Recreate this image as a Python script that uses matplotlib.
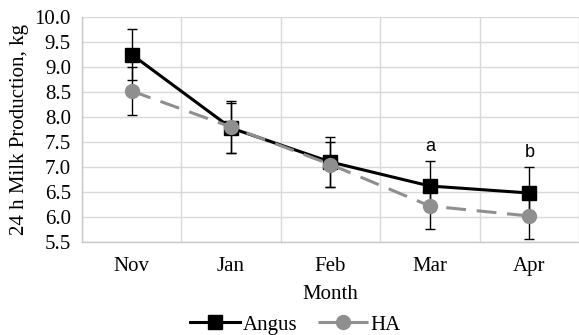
import numpy as np
import matplotlib
matplotlib.use('Agg')
import matplotlib.pyplot as plt

months = ['Nov', 'Jan', 'Feb', 'Mar', 'Apr']
angus = [9.25, 7.78, 7.10, 6.62, 6.48]
angus_err = [0.51, 0.50, 0.50, 0.50, 0.52]
ha = [8.52, 7.80, 7.05, 6.22, 6.02]
ha_err = [0.48, 0.52, 0.45, 0.46, 0.46]
letters = {3: 'a', 4: 'b'}

plt.rcParams['font.family'] = 'Liberation Serif'
plt.rcParams['font.size'] = 15

fig = plt.figure(figsize=(5.79, 3.35), dpi=100)
ax = fig.add_axes([0.1416, 0.2776, 0.8584, 0.6716])

x = np.arange(len(months))
# error bars first, then the lines on top
ax.errorbar(x, ha, yerr=ha_err, fmt='none', ecolor='black',
            elinewidth=1, capsize=3.5, capthick=1, zorder=2)
ax.errorbar(x, angus, yerr=angus_err, fmt='none', ecolor='black',
            elinewidth=1, capsize=3.5, capthick=1, zorder=2)
l_angus, = ax.plot(x, angus, color='black', lw=2.2, marker='s', ms=10,
                   label='Angus', zorder=3)
l_ha, = ax.plot(x, ha, color='#8f8f8f', lw=2.2, ls=(0, (6.5, 3.5)),
                marker='o', ms=10, label='HA', zorder=4)

for i, t in letters.items():
    top = max(angus[i] + angus_err[i], ha[i] + ha_err[i])
    ax.text(x[i], top + 0.12, t, ha='center', va='bottom', fontsize=13,
            family='Liberation Sans')

ax.set_xlim(-0.5, 4.47)
ax.set_ylim(5.5, 10.0)
yt = np.arange(5.5, 10.01, 0.5)
ax.set_yticks(yt)
ax.set_yticklabels(['%.1f' % v for v in yt])
ax.set_xticks(x)
ax.set_xticklabels(months)
ax.set_xticks(np.arange(-0.5, 4.6, 1), minor=True)
ax.grid(True, which='major', axis='y', color='#d9d9d9', lw=1)
ax.grid(True, which='minor', axis='x', color='#d9d9d9', lw=1)
ax.tick_params(which='both', length=0)
ax.tick_params(axis='x', pad=11)
ax.tick_params(axis='y', pad=8)
for s in ['top', 'right']:
    ax.spines[s].set_visible(False)
for s in ['left', 'bottom']:
    ax.spines[s].set_color('#c8c8c8')
    ax.spines[s].set_linewidth(1)
ax.set_axisbelow(True)

ax.set_xlabel('Month', labelpad=6)
ax.set_ylabel('24 h Milk Production, kg', labelpad=4)

fig.legend([l_angus, l_ha], ['Angus', 'HA'], loc='center',
           bbox_to_anchor=(0.51, 0.03), ncol=2, frameon=False,
           handlelength=2.4, handletextpad=0.1, columnspacing=1.0,
           fontsize=15)

fig.savefig('out.png', dpi=100)
